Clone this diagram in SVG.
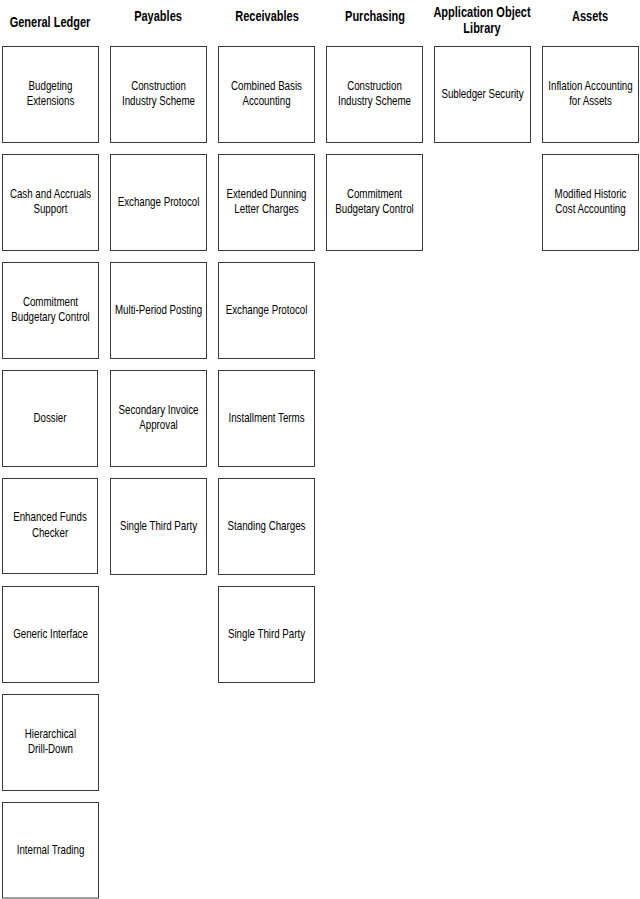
<svg xmlns="http://www.w3.org/2000/svg" width="640" height="899" viewBox="0 0 640 899">
<style>
  .box { fill: #ffffff; stroke: #3a3a3a; stroke-width: 1; }
  .lbl { font-family: "Liberation Sans", Arial, sans-serif; font-size: 12.5px; fill: #000; text-anchor: middle; }
  .hdr { font-family: "Liberation Sans", Arial, sans-serif; font-size: 14.5px; font-weight: bold; fill: #000; text-anchor: middle; }
</style>
<rect width="640" height="899" fill="#ffffff"/>

<g id="headers">
  <text class="hdr" transform="translate(50,26.5) scale(0.76,1)">General Ledger</text>
  <text class="hdr" transform="translate(158,20.5) scale(0.76,1)">Payables</text>
  <text class="hdr" transform="translate(267,20.5) scale(0.76,1)">Receivables</text>
  <text class="hdr" transform="translate(375,20.5) scale(0.76,1)">Purchasing</text>
  <text class="hdr" transform="translate(482,17) scale(0.76,1)">Application Object</text>
  <text class="hdr" transform="translate(482,33) scale(0.76,1)">Library</text>
  <text class="hdr" transform="translate(590,20.5) scale(0.76,1)">Assets</text>
</g>

<g id="connectors"></g>

<!-- General Ledger -->
<g id="gl-budgeting-extensions">
  <rect class="box" x="2.5" y="46.5" width="96" height="96"/>
  <text class="lbl" transform="translate(50.5,89.5) scale(0.78,1)">Budgeting</text>
  <text class="lbl" transform="translate(50.5,105) scale(0.78,1)">Extensions</text>
</g>
<g id="gl-cash-accruals">
  <rect class="box" x="2.5" y="154.5" width="96" height="96"/>
  <text class="lbl" transform="translate(50.5,197.5) scale(0.78,1)">Cash and Accruals</text>
  <text class="lbl" transform="translate(50.5,213) scale(0.78,1)">Support</text>
</g>
<g id="gl-commitment">
  <rect class="box" x="2.5" y="262.5" width="96" height="96"/>
  <text class="lbl" transform="translate(50.5,305.5) scale(0.78,1)">Commitment</text>
  <text class="lbl" transform="translate(50.5,321) scale(0.78,1)">Budgetary Control</text>
</g>
<g id="gl-dossier">
  <rect class="box" x="2.5" y="370.5" width="95" height="96"/>
  <text class="lbl" transform="translate(50,421.5) scale(0.78,1)">Dossier</text>
</g>
<g id="gl-enhanced-funds">
  <rect class="box" x="2.5" y="478.5" width="95" height="95"/>
  <text class="lbl" transform="translate(50,521) scale(0.78,1)">Enhanced Funds</text>
  <text class="lbl" transform="translate(50,536.5) scale(0.78,1)">Checker</text>
</g>
<g id="gl-generic-interface">
  <rect class="box" x="2.5" y="586.5" width="96" height="96"/>
  <text class="lbl" transform="translate(50.5,637.5) scale(0.78,1)">Generic Interface</text>
</g>
<g id="gl-hierarchical">
  <rect class="box" x="2.5" y="694.5" width="96" height="96"/>
  <text class="lbl" transform="translate(50.5,737.5) scale(0.78,1)">Hierarchical</text>
  <text class="lbl" transform="translate(50.5,753) scale(0.78,1)">Drill-Down</text>
</g>
<g id="gl-internal-trading">
  <rect class="box" x="2.5" y="802.5" width="96" height="95.5"/>
  <text class="lbl" transform="translate(50.5,853.5) scale(0.78,1)">Internal Trading</text>
</g>

<!-- Payables -->
<g id="ap-construction">
  <rect class="box" x="110.5" y="46.5" width="96" height="96"/>
  <text class="lbl" transform="translate(158.5,89.5) scale(0.78,1)">Construction</text>
  <text class="lbl" transform="translate(158.5,105) scale(0.78,1)">Industry Scheme</text>
</g>
<g id="ap-exchange">
  <rect class="box" x="110.5" y="154.5" width="96" height="96"/>
  <text class="lbl" transform="translate(158.5,205.5) scale(0.78,1)">Exchange Protocol</text>
</g>
<g id="ap-multi-period">
  <rect class="box" x="110.5" y="262.5" width="96" height="96"/>
  <text class="lbl" transform="translate(158.5,313.5) scale(0.78,1)">Multi-Period Posting</text>
</g>
<g id="ap-secondary-invoice">
  <rect class="box" x="110.5" y="370.5" width="96" height="96"/>
  <text class="lbl" transform="translate(158.5,413.5) scale(0.78,1)">Secondary Invoice</text>
  <text class="lbl" transform="translate(158.5,429) scale(0.78,1)">Approval</text>
</g>
<g id="ap-single-third-party">
  <rect class="box" x="110.5" y="478.5" width="96" height="96"/>
  <text class="lbl" transform="translate(158.5,529.5) scale(0.78,1)">Single Third Party</text>
</g>

<!-- Receivables -->
<g id="ar-combined-basis">
  <rect class="box" x="218.5" y="46.5" width="96" height="96"/>
  <text class="lbl" transform="translate(266.5,89.5) scale(0.78,1)">Combined Basis</text>
  <text class="lbl" transform="translate(266.5,105) scale(0.78,1)">Accounting</text>
</g>
<g id="ar-extended-dunning">
  <rect class="box" x="218.5" y="154.5" width="96" height="96"/>
  <text class="lbl" transform="translate(266.5,197.5) scale(0.78,1)">Extended Dunning</text>
  <text class="lbl" transform="translate(266.5,213) scale(0.78,1)">Letter Charges</text>
</g>
<g id="ar-exchange">
  <rect class="box" x="218.5" y="262.5" width="96" height="96"/>
  <text class="lbl" transform="translate(266.5,313.5) scale(0.78,1)">Exchange Protocol</text>
</g>
<g id="ar-installment">
  <rect class="box" x="218.5" y="370.5" width="96" height="96"/>
  <text class="lbl" transform="translate(266.5,421.5) scale(0.78,1)">Installment Terms</text>
</g>
<g id="ar-standing-charges">
  <rect class="box" x="218.5" y="478.5" width="96" height="96"/>
  <text class="lbl" transform="translate(266.5,529.5) scale(0.78,1)">Standing Charges</text>
</g>
<g id="ar-single-third-party">
  <rect class="box" x="218.5" y="586.5" width="96" height="96"/>
  <text class="lbl" transform="translate(266.5,637.5) scale(0.78,1)">Single Third Party</text>
</g>

<!-- Purchasing -->
<g id="po-construction">
  <rect class="box" x="326.5" y="46.5" width="96" height="96"/>
  <text class="lbl" transform="translate(374.5,89.5) scale(0.78,1)">Construction</text>
  <text class="lbl" transform="translate(374.5,105) scale(0.78,1)">Industry Scheme</text>
</g>
<g id="po-commitment">
  <rect class="box" x="326.5" y="154.5" width="96" height="96"/>
  <text class="lbl" transform="translate(374.5,197.5) scale(0.78,1)">Commitment</text>
  <text class="lbl" transform="translate(374.5,213) scale(0.78,1)">Budgetary Control</text>
</g>

<!-- Application Object Library -->
<g id="aol-subledger-security">
  <rect class="box" x="434.5" y="46.5" width="96" height="96"/>
  <text class="lbl" transform="translate(482.5,97.5) scale(0.78,1)">Subledger Security</text>
</g>

<!-- Assets -->
<g id="fa-inflation">
  <rect class="box" x="542.5" y="46.5" width="96" height="96"/>
  <text class="lbl" transform="translate(590.5,89.5) scale(0.78,1)">Inflation Accounting</text>
  <text class="lbl" transform="translate(590.5,105) scale(0.78,1)">for Assets</text>
</g>
<g id="fa-modified-historic">
  <rect class="box" x="542.5" y="154.5" width="96" height="96"/>
  <text class="lbl" transform="translate(590.5,197.5) scale(0.78,1)">Modified Historic</text>
  <text class="lbl" transform="translate(590.5,213) scale(0.78,1)">Cost Accounting</text>
</g>
</svg>
